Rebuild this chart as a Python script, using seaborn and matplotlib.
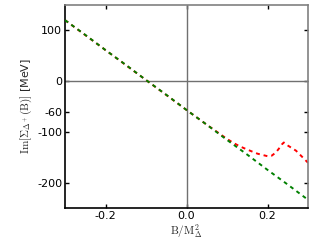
import numpy as np
import pandas as pd
import matplotlib
matplotlib.use("Agg")
import matplotlib.pyplot as plt
import seaborn as sns

# === Values ===
b_green = [-0.30, -0.25, -0.20, -0.15, -0.10, -0.05, 0.00, 0.05, 0.10, 0.15, 0.20, 0.25, 0.30]
im_green = [120, 91, 61, 32, 2, -27, -57, -86, -116, -145, -175, -204, -234]

b_red = [-0.30, -0.20, -0.10, 0.00, 0.05, 0.10, 0.114, 0.13, 0.15, 0.175, 0.20, 0.21, 0.22,
         0.23, 0.235, 0.24, 0.25, 0.26, 0.27, 0.28, 0.29, 0.30]
im_red = [120, 61, 2, -57, -86, -114, -121, -128, -135, -143, -148, -147, -141,
          -131, -125, -121, -127, -132, -137, -145, -153, -161]

yticks = [100, 0, -60, -100, -200]
xticks = [-0.2, 0.0, 0.2]

df_red = pd.DataFrame({"B": b_red, "Im": im_red})
df_green = pd.DataFrame({"B": b_green, "Im": im_green})

sns.set_style("ticks")
plt.rcParams["font.family"] = ["DejaVu Sans"]
plt.rcParams["mathtext.fontset"] = "cm"

fig, ax = plt.subplots(figsize=(3.25, 2.45), dpi=100)

ax.axhline(0, color="#707070", lw=1.0, zorder=1)
ax.axvline(0, color="#707070", lw=1.0, zorder=1)

sns.lineplot(data=df_red, x="B", y="Im", ax=ax, color="red", lw=1.4,
             linestyle=(0, (2, 2)), zorder=2)
sns.lineplot(data=df_green, x="B", y="Im", ax=ax, color="green", lw=1.4,
             linestyle=(0, (2, 2)), zorder=3)

ax.set_xlim(-0.3, 0.3)
ax.set_ylim(-250, 150)
ax.set_xticks(xticks)
ax.set_xticklabels(["-0.2", "0.0", "0.2"])
ax.set_yticks(yticks)
ax.set_yticklabels([str(t) for t in yticks])
ax.tick_params(direction="in", top=True, right=True, length=3, width=1,
               labelsize=8, pad=2, colors="black")

for side in ["left", "bottom"]:
    ax.spines[side].set_color("black")
    ax.spines[side].set_linewidth(1.2)
for side in ["top", "right"]:
    ax.spines[side].set_visible(True)
    ax.spines[side].set_color("#808080")
    ax.spines[side].set_linewidth(1.2)

ax.set_xlabel(r"$\mathrm{B/M_{\Delta}^{2}}$", fontsize=8, labelpad=1)
ax.set_ylabel(r"$\mathrm{Im}[\Sigma_{\Delta^+}(\mathrm{B})]$ [MeV]", fontsize=8, labelpad=2)

fig.subplots_adjust(left=0.2, right=0.948, top=0.98, bottom=0.151)
fig.savefig("out.png", dpi=100)
